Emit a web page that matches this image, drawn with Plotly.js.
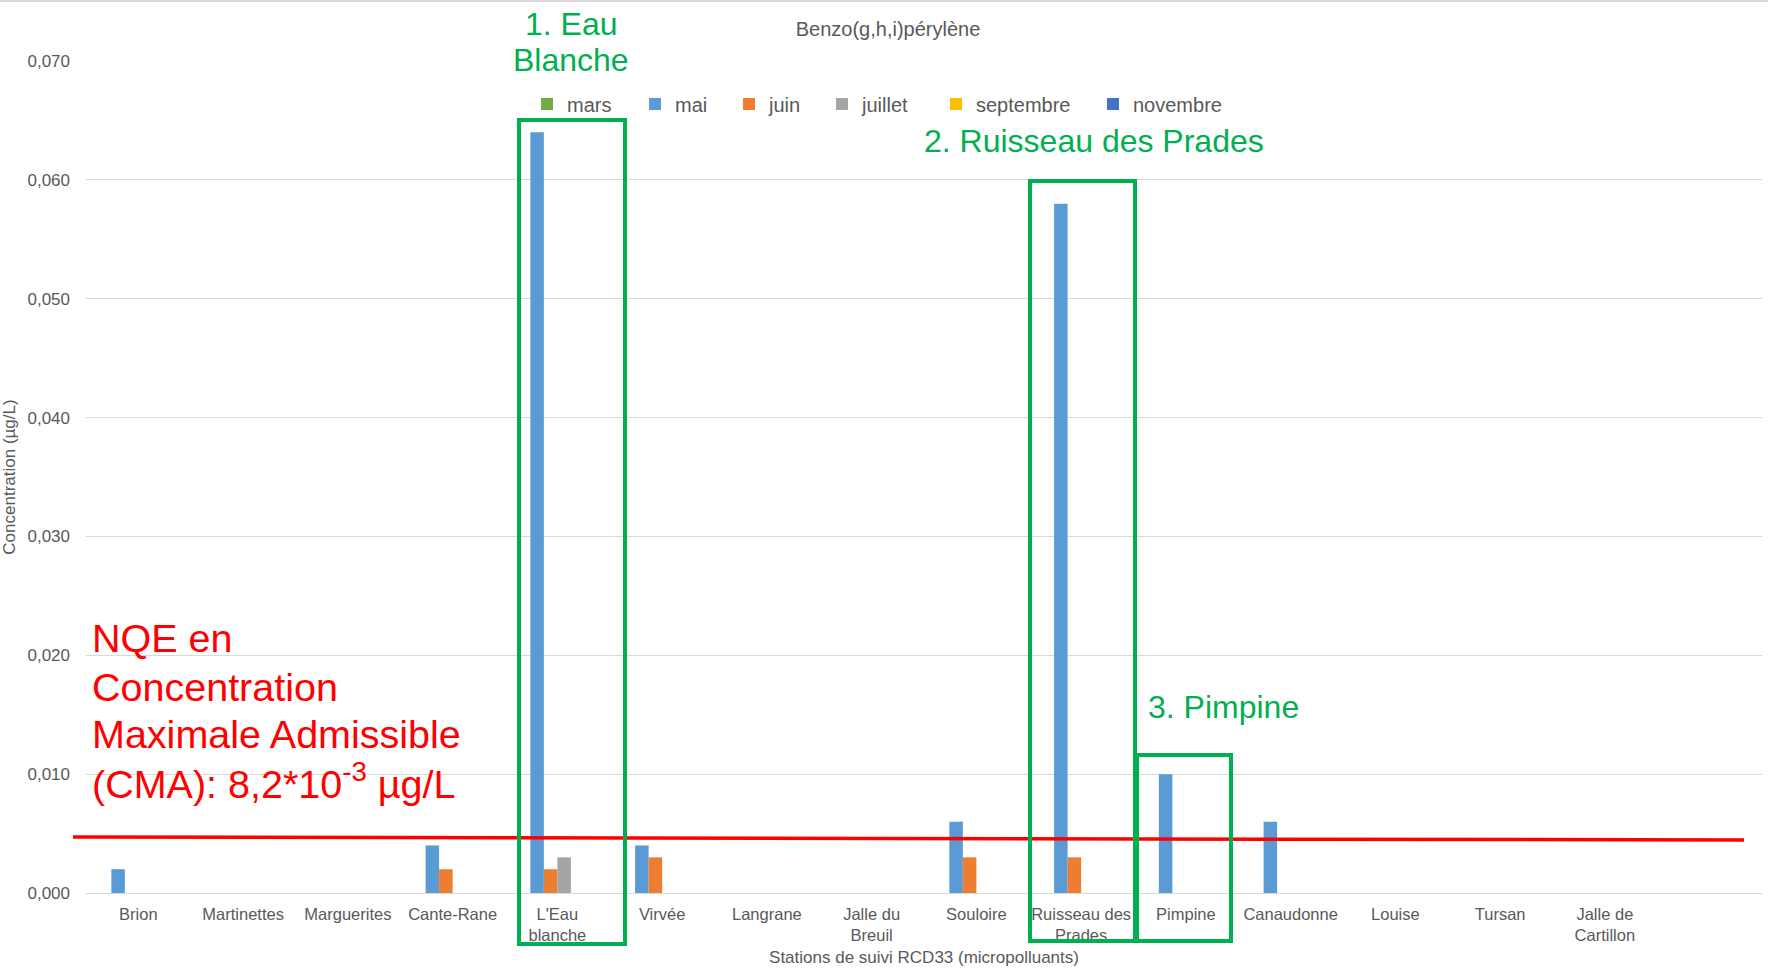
<!DOCTYPE html>
<html>
<head>
<meta charset="utf-8">
<script src="https://cdn.plot.ly/plotly-3.0.1.min.js"></script>
<style>
  html, body { margin: 0; padding: 0; background: #ffffff; }
  #chart { width: 1768px; height: 972px; }
</style>
</head>
<body>
<div id="chart"></div>
<script>
// ---- Data ----
const stations = ["Brion", "Martinettes", "Marguerites", "Cante-Rane", "L'Eau<br>blanche", "Virvée", "Langrane",
  "Jalle du<br>Breuil", "Souloire", "Ruisseau des<br>Prades", "Pimpine", "Canaudonne", "Louise", "Tursan", "Jalle de<br>Cartillon"];
const months = ["mars", "mai", "juin", "juillet", "septembre", "novembre"];
const monthColors = ["#70ad47", "#5b9bd5", "#ed7d31", "#a5a5a5", "#ffc000", "#4472c4"];
const mars      = [null, null, null, null,  null,  null,  null, null, null,  null,  null,  null,  null, null, null];
const mai       = [0.002, null, null, 0.004, 0.064, 0.004, null, null, 0.006, 0.058, 0.010, 0.006, null, null, null];
const juin      = [null, null, null, 0.002, 0.002, 0.003, null, null, 0.003, 0.003, null,  null,  null, null, null];
const juillet   = [null, null, null, null,  0.003, null,  null, null, null,  null,  null,  null,  null, null, null];
const septembre = [null, null, null, null,  null,  null,  null, null, null,  null,  null,  null,  null, null, null];
const novembre  = [null, null, null, null,  null,  null,  null, null, null,  null,  null,  null,  null, null, null];
const seriesValues = [mars, mai, juin, juillet, septembre, novembre];

const chartTitle = "Benzo(g,h,i)pérylène";
const xTitle = "Stations de suivi RCD33 (micropolluants)";
const yTitle = "Concentration (µg/L)";
const nqeLines = ["NQE en", "Concentration", "Maximale Admissible", "(CMA): 8,2*10<sup>-3</sup> µg/L"];

// ---- Geometry helpers (pixel -> paper) ----
const W = 1768, H = 972;
const PL = 86, PR = 1762, PT = 61, PB = 893;
const px = p => (p - PL) / (PR - PL);
const py = p => (PB - p) / (PB - PT);

const FONT = "Liberation Sans, Arial, sans-serif";
const GREY = "#595959";
const GREEN = "#00b050";

// ---- Traces ----
const legendMarkerPx = [549, 657, 751, 844, 958, 1115];
const traces = months.map((m, i) => ({
  type: "bar",
  name: m,
  x: stations,
  y: seriesValues[i],
  marker: { color: monthColors[i], line: { width: 0 } },
  legend: i === 0 ? "legend" : "legend" + (i + 1),
  hoverinfo: "x+y+name"
}));

// ---- Layout ----
const layout = {
  width: W, height: H,
  paper_bgcolor: "#ffffff",
  plot_bgcolor: "#ffffff",
  margin: { l: PL, r: W - PR, t: PT, b: H - PB, pad: 0 },
  separators: ", ",
  font: { family: FONT, color: GREY, size: 17 },
  barmode: "group",
  bargap: 0.226,
  bargroupgap: 0,
  title: {
    text: chartTitle,
    x: 888 / W, xanchor: "center",
    y: 1 - 29 / H, yanchor: "middle",
    font: { family: FONT, size: 20, color: GREY }
  },
  xaxis: {
    type: "category",
    range: [-0.5, 15.5],
    showgrid: false,
    zeroline: false,
    showline: false,
    ticks: "",
    tickangle: 0,
    tickfont: { family: FONT, size: 16.5, color: GREY },
    ticklabelstandoff: 9,
    title: { text: xTitle, font: { family: FONT, size: 17, color: GREY }, standoff: 8 },
    fixedrange: true
  },
  yaxis: {
    range: [0, 0.07],
    dtick: 0.01,
    tick0: 0,
    tickformat: ".3f",
    showgrid: true,
    gridcolor: "#d9d9d9",
    gridwidth: 1,
    zeroline: true,
    zerolinecolor: "#d9d9d9",
    zerolinewidth: 1,
    showline: false,
    ticks: "",
    ticklabelstandoff: 15,
    tickfont: { family: FONT, size: 17, color: GREY },
    title: { text: yTitle, font: { family: FONT, size: 17, color: GREY }, standoff: 12 },
    fixedrange: true
  },
  shapes: [
    // top border line
    { type: "line", xref: "paper", yref: "paper", x0: px(0), x1: px(W), y0: py(1), y1: py(1),
      line: { color: "#d9d9d9", width: 2 } },
    // red NQE line
    { type: "line", xref: "paper", yref: "paper", x0: px(73), y0: py(837), x1: px(1744), y1: py(840),
      line: { color: "#ff0000", width: 3.5 } },
    // green boxes
    { type: "rect", xref: "paper", yref: "paper", x0: px(519), x1: px(625), y0: py(944), y1: py(120),
      line: { color: GREEN, width: 4 } },
    { type: "rect", xref: "paper", yref: "paper", x0: px(1030), x1: px(1135), y0: py(941), y1: py(181),
      line: { color: GREEN, width: 4 } },
    { type: "rect", xref: "paper", yref: "paper", x0: px(1137), x1: px(1231), y0: py(941), y1: py(755),
      line: { color: GREEN, width: 4 } }
  ],
  annotations: [
    { text: "1. Eau", x: px(571), y: py(24) },
    { text: "Blanche", x: px(571), y: py(60) },
    { text: "2. Ruisseau des Prades", x: px(1094), y: py(141) },
    { text: "3. Pimpine", x: px(1223), y: py(707) }
  ].map(a => Object.assign({
    xref: "paper", yref: "paper", xanchor: "center", yanchor: "middle", showarrow: false,
    font: { family: FONT, size: 32, color: GREEN }
  }, a)).concat(
    nqeLines.map((t, i) => ({
      text: t, xref: "paper", yref: "paper", x: px(90), y: py([638, 687, 734, 781][i]),
      xanchor: "left", yanchor: "middle", showarrow: false,
      font: { family: FONT, size: 39.5, color: "#ff0000" }
    }))
  ),
  showlegend: true
};

// One legend per month so that each entry sits where the reference puts it
months.forEach((m, i) => {
  const key = i === 0 ? "legend" : "legend" + (i + 1);
  layout[key] = {
    orientation: "h",
    x: px(legendMarkerPx[i] - 22), xanchor: "left",
    y: py(104), yanchor: "middle",
    bgcolor: "rgba(0,0,0,0)",
    borderwidth: 0,
    font: { family: FONT, size: 20, color: GREY },
    itemclick: false, itemdoubleclick: false
  };
});

Plotly.newPlot("chart", traces, layout, { displayModeBar: false, staticPlot: true });
</script>
</body>
</html>
